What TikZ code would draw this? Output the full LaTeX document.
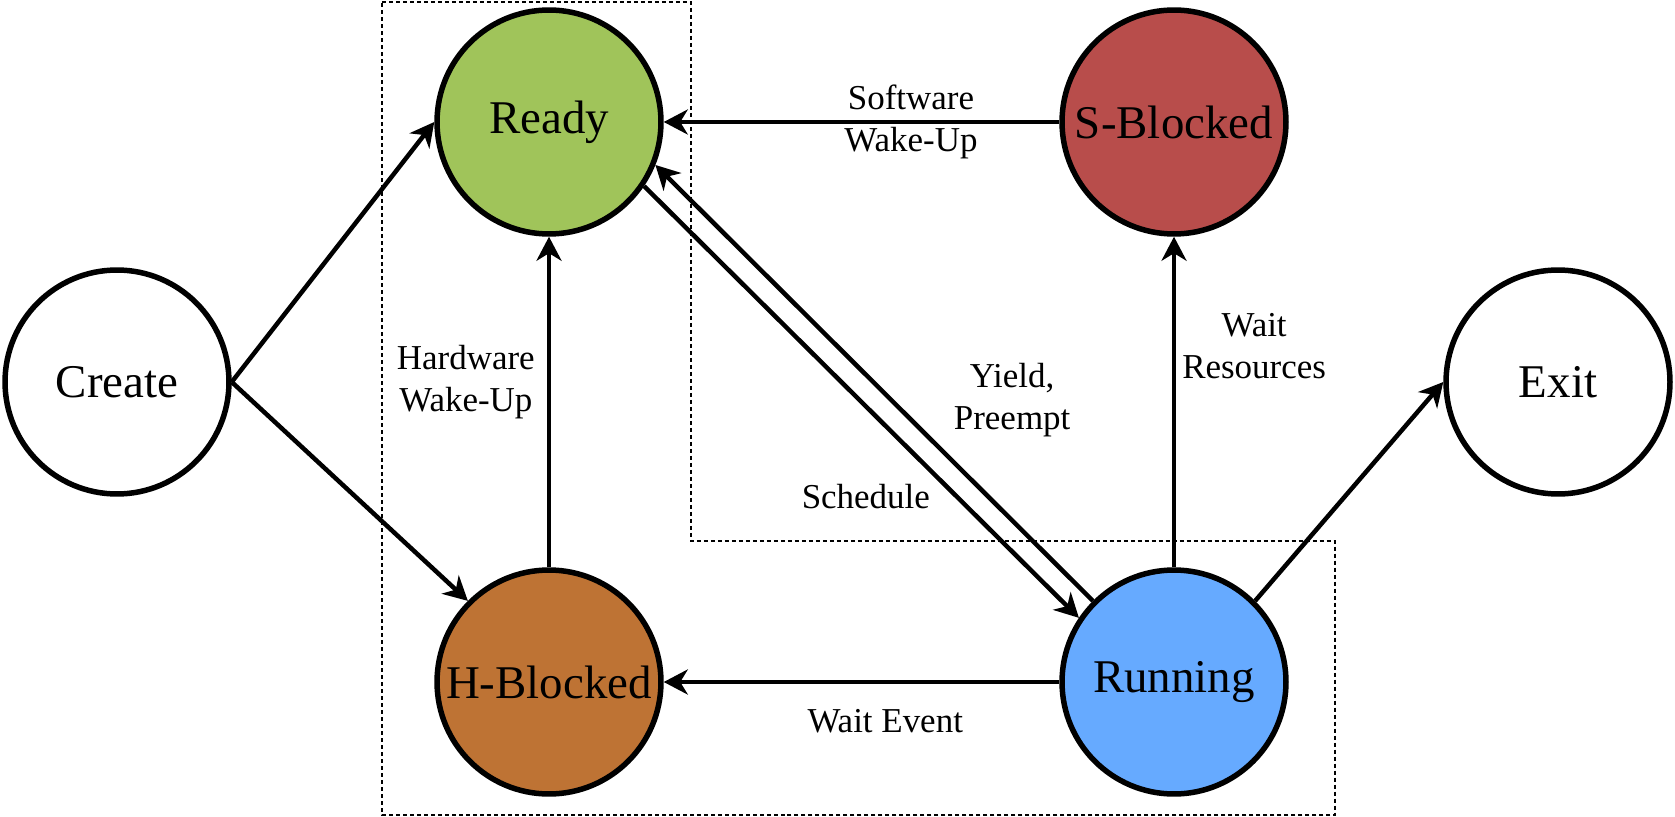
\documentclass[tikz,border=0pt]{standalone}
\usepackage{fontspec}
\setmainfont{Liberation Serif}
\usetikzlibrary{arrows.meta}
\definecolor{readyfill}{HTML}{A0C45A}
\definecolor{sblockfill}{HTML}{B84D4B}
\definecolor{hblockfill}{HTML}{BE7334}
\definecolor{runfill}{HTML}{66AAFF}
\begin{document}
\begin{tikzpicture}[x=0.02cm,y=-0.02cm,
  proc/.style={circle,draw=black,line width=0.11cm,minimum size=4.48cm,inner sep=0pt,font=\fontsize{26.7}{32}\selectfont},
  lbl/.style={align=center,inner sep=0pt,font=\fontsize{19.9}{24}\selectfont},
  arr/.style={line width=0.09cm,-{Stealth[length=0.48cm,width=0.5cm,inset=0.15cm]}},
  zone/.style={line width=0.025cm,dash pattern=on 0.08cm off 0.06cm}]
\useasboundingbox (0,0) rectangle (1675,817);
% dashed area
\draw[zone] (382,2) -- (691,2) -- (691,541) -- (1335,541) -- (1335,815) -- (382,815) -- cycle;
% states
\node[proc] (create) at (117,382) {Create};
\node[proc,fill=readyfill] (ready) at (549,122) {Ready};
\node[proc,fill=sblockfill] (sblock) at (1174,122) {S-Blocked};
\node[proc,fill=hblockfill] (hblock) at (549,682) {H-Blocked};
\node[proc,fill=runfill] (run) at (1174,682) {Running};
\node[proc] (exit) at (1558,382) {Exit};
% transitions
\draw[arr] (create.east) -- (ready.west);
\draw[arr] (create.east) -- (hblock.north west);
\draw[arr] (hblock.north) -- node[lbl,pos=0.56,left=0.24cm] {Hardware\\Wake-Up} (ready.south);
\draw[arr] (sblock.west) -- node[lbl,pos=0.375] {Software\\Wake-Up} (ready.east);
\draw[arr] (ready.-34) -- node[lbl,pos=0.72,left=0.5cm] {Schedule} (run.146);
\draw[arr] (run.north west) -- node[lbl,pos=0.46,right=1.2cm] {Yield,\\Preempt} (ready.-22);
\draw[arr] (run.north) -- node[lbl,pos=0.67,right=0.12cm] {Wait\\Resources} (sblock.south);
\draw[arr] (run.west) -- node[lbl,pos=0.44,below=0.5cm] {Wait Event} (hblock.east);
\draw[arr] (run.north east) -- (exit.west);
\end{tikzpicture}
\end{document}
